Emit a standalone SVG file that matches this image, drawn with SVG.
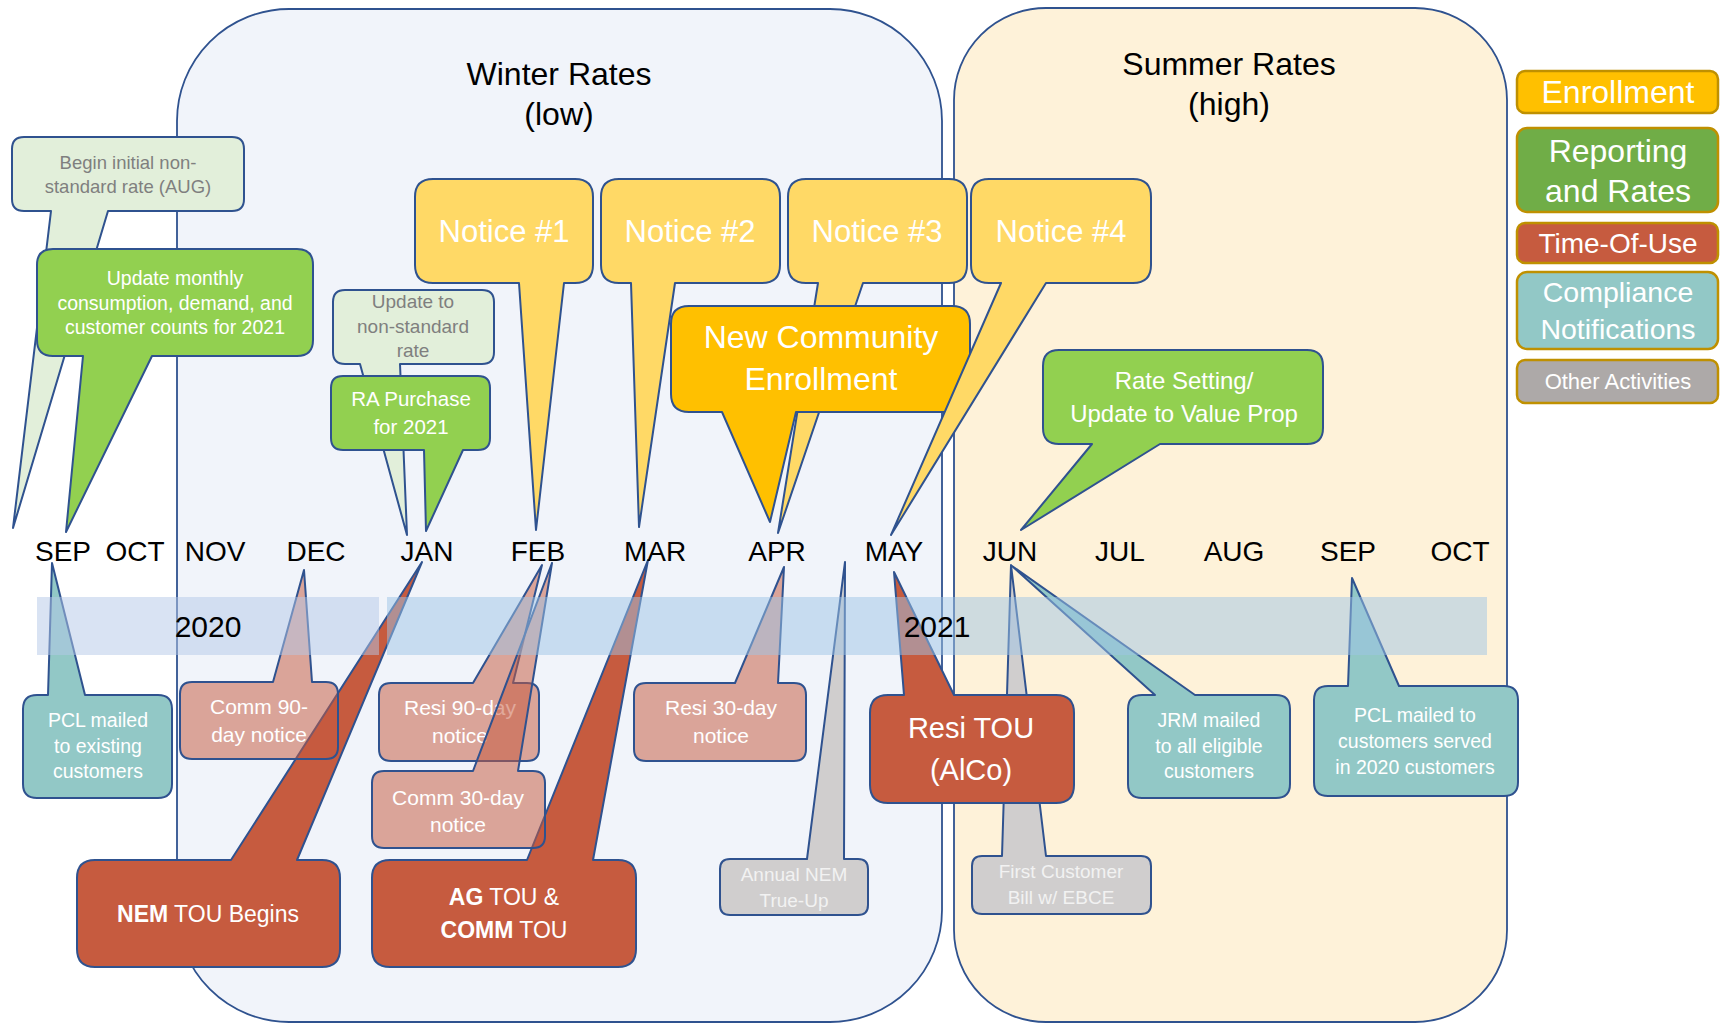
<svg xmlns="http://www.w3.org/2000/svg" width="1720" height="1024" viewBox="0 0 1720 1024">
<style>
text{font-family:"Liberation Sans",Arial,sans-serif;text-anchor:middle}
.cs{stroke:#2F528F;stroke-width:2;stroke-linejoin:round}
.lg{fill:#E2EFDA}.gr{fill:#92D050}.nt{fill:#FFD966}.en{fill:#FFC000}
.tou{fill:#C65B3F}.ltou{fill:#C65B3F;fill-opacity:0.52}.teal{fill:#92C8C6}.gray{fill:#D0CECE}
.tw{fill:#FFFFFF}.tg{fill:#7F7F7F}.tl{fill:#F2F2F2}.tk{fill:#000000}
.leg{stroke:#BF9000;stroke-width:2.5}
</style>
<rect width="1720" height="1024" fill="#FFFFFF"/>
<g id="winter-panel">
<rect x="177" y="9" width="765" height="1013" rx="112" ry="112" fill="#F1F4FA" stroke="#2F528F" stroke-width="1.8"/>
<text x="559" y="85" font-size="32" class="tk">Winter Rates</text>
<text x="559" y="125" font-size="32" class="tk">(low)</text>
</g>
<g id="summer-panel">
<rect x="954" y="8" width="553" height="1014" rx="92" ry="92" fill="#FEF2D9" stroke="#2F528F" stroke-width="1.8"/>
<text x="1229" y="75" font-size="32" class="tk">Summer Rates</text>
<text x="1229" y="115" font-size="32" class="tk">(high)</text>
</g>
<g id="begin-initial">
<path class="cs lg" d="M24,137 H232 Q244,137 244,149 V199 Q244,211 232,211 H108 L13,528 L51,211 H24 Q12,211 12,199 V149 Q12,137 24,137 Z"/>
<text x="128" y="169" font-size="18.5" class="tg">Begin initial non-</text>
<text x="128" y="193" font-size="18.5" class="tg">standard rate (AUG)</text>
</g>
<g id="update-monthly">
<path class="cs gr" d="M53,249 H297 Q313,249 313,265 V340 Q313,356 297,356 H152 L66,532 L83,356 H53 Q37,356 37,340 V265 Q37,249 53,249 Z"/>
<text x="175" y="285" font-size="19.5" class="tw">Update monthly</text>
<text x="175" y="310" font-size="19.5" class="tw">consumption, demand, and</text>
<text x="175" y="334" font-size="19.5" class="tw">customer counts for 2021</text>
</g>
<g id="update-nonstandard">
<path class="cs lg" d="M345,290 H482 Q494,290 494,302 V352 Q494,364 482,364 H400 L407,535 L360,364 H345 Q333,364 333,352 V302 Q333,290 345,290 Z"/>
<text x="413" y="308" font-size="19" class="tg">Update to</text>
<text x="413" y="333" font-size="19" class="tg">non-standard</text>
<text x="413" y="357" font-size="19" class="tg">rate</text>
</g>
<g id="ra-purchase">
<path class="cs gr" d="M343,376 H478 Q490,376 490,388 V438 Q490,450 478,450 H463 L426,531 L424,450 H343 Q331,450 331,438 V388 Q331,376 343,376 Z"/>
<text x="411" y="406" font-size="20.5" class="tw">RA Purchase</text>
<text x="411" y="434" font-size="20.5" class="tw">for 2021</text>
</g>
<g id="notice-1">
<path class="cs nt" d="M433,179 H575 Q593,179 593,197 V265 Q593,283 575,283 H564 L536,530 L519,283 H433 Q415,283 415,265 V197 Q415,179 433,179 Z"/>
<text x="504" y="242" font-size="31" class="tw">Notice #1</text>
</g>
<g id="notice-2">
<path class="cs nt" d="M619,179 H762 Q780,179 780,197 V265 Q780,283 762,283 H675 L639,527 L631,283 H619 Q601,283 601,265 V197 Q601,179 619,179 Z"/>
<text x="690" y="242" font-size="31" class="tw">Notice #2</text>
</g>
<g id="notice-3">
<path class="cs nt" d="M806,179 H949 Q967,179 967,197 V265 Q967,283 949,283 H863 L778,533 L818,283 H806 Q788,283 788,265 V197 Q788,179 806,179 Z"/>
<text x="877" y="242" font-size="31" class="tw">Notice #3</text>
</g>
<g id="new-community-enrollment">
<path class="cs en" d="M689,306 H952 Q970,306 970,324 V394 Q970,412 952,412 H796 L770,522 L722,412 H689 Q671,412 671,394 V324 Q671,306 689,306 Z"/>
<text x="821" y="348" font-size="32" class="tw">New Community</text>
<text x="821" y="390" font-size="32" class="tw">Enrollment</text>
</g>
<g id="notice-4">
<path class="cs nt" d="M989,179 H1133 Q1151,179 1151,197 V265 Q1151,283 1133,283 H1046 L891,535 L1001,283 H989 Q971,283 971,265 V197 Q971,179 989,179 Z"/>
<text x="1061" y="242" font-size="31" class="tw">Notice #4</text>
</g>
<g id="rate-setting">
<path class="cs gr" d="M1059,350 H1307 Q1323,350 1323,366 V428 Q1323,444 1307,444 H1160 L1021,530 L1092,444 H1059 Q1043,444 1043,428 V366 Q1043,350 1059,350 Z"/>
<text x="1184" y="389" font-size="24" class="tw">Rate Setting/</text>
<text x="1184" y="422" font-size="24" class="tw">Update to Value Prop</text>
</g>
<g id="nem-tou">
<path class="cs tou" d="M95,860 H231 L422,562 L297,860 H322 Q340,860 340,878 V949 Q340,967 322,967 H95 Q77,967 77,949 V878 Q77,860 95,860 Z"/>
<text x="208" y="922" font-size="23" class="tw"><tspan font-weight="bold">NEM</tspan> TOU Begins</text>
</g>
<g id="comm-90">
<path class="cs ltou" d="M192,682 H273 L304,570 L312,682 H326 Q338,682 338,694 V747 Q338,759 326,759 H192 Q180,759 180,747 V694 Q180,682 192,682 Z"/>
<text x="259" y="714" font-size="21" class="tw">Comm 90-</text>
<text x="259" y="742" font-size="21" class="tw">day notice</text>
</g>
<g id="ag-comm-tou">
<path class="cs tou" d="M390,860 H527 L648,560 L593,860 H618 Q636,860 636,878 V949 Q636,967 618,967 H390 Q372,967 372,949 V878 Q372,860 390,860 Z"/>
<text x="504" y="905" font-size="23" class="tw"><tspan font-weight="bold">AG</tspan> TOU &amp;</text>
<text x="504" y="938" font-size="23" class="tw"><tspan font-weight="bold">COMM</tspan> TOU</text>
</g>
<g id="resi-90">
<path class="cs ltou" d="M391,683 H473 L542,565 L513,683 H527 Q539,683 539,695 V749 Q539,761 527,761 H391 Q379,761 379,749 V695 Q379,683 391,683 Z"/>
<text x="460" y="715" font-size="21" class="tw">Resi 90-day</text>
<text x="460" y="743" font-size="21" class="tw">notice</text>
</g>
<g id="comm-30">
<path class="cs ltou" d="M384,771 H473 L552,563 L518,771 H533 Q545,771 545,783 V836 Q545,848 533,848 H384 Q372,848 372,836 V783 Q372,771 384,771 Z"/>
<text x="458" y="805" font-size="21" class="tw">Comm 30-day</text>
<text x="458" y="832" font-size="21" class="tw">notice</text>
</g>
<g id="resi-30">
<path class="cs ltou" d="M646,683 H735 L784,567 L778,683 H794 Q806,683 806,695 V749 Q806,761 794,761 H646 Q634,761 634,749 V695 Q634,683 646,683 Z"/>
<text x="721" y="715" font-size="21" class="tw">Resi 30-day</text>
<text x="721" y="743" font-size="21" class="tw">notice</text>
</g>
<g id="annual-nem">
<path class="cs gray" d="M730,859 H807 L845,562 L844,859 H858 Q868,859 868,869 V905 Q868,915 858,915 H730 Q720,915 720,905 V869 Q720,859 730,859 Z"/>
<text x="794" y="881" font-size="19" class="tl">Annual NEM</text>
<text x="794" y="907" font-size="19" class="tl">True-Up</text>
</g>
<g id="first-customer-bill">
<path class="cs gray" d="M982,856 H1002 L1011,565 L1046,856 H1141 Q1151,856 1151,866 V904 Q1151,914 1141,914 H982 Q972,914 972,904 V866 Q972,856 982,856 Z"/>
<text x="1061" y="878" font-size="19" class="tl">First Customer</text>
<text x="1061" y="904" font-size="19" class="tl">Bill w/ EBCE</text>
</g>
<g id="resi-tou">
<path class="cs tou" d="M888,695 H904 L894,572 L954,695 H1056 Q1074,695 1074,713 V785 Q1074,803 1056,803 H888 Q870,803 870,785 V713 Q870,695 888,695 Z"/>
<text x="971" y="738" font-size="29" class="tw">Resi TOU</text>
<text x="971" y="780" font-size="29" class="tw">(AlCo)</text>
</g>
<g id="jrm-mailed">
<path class="cs teal" d="M1142,695 H1155 L1012,566 L1195,695 H1276 Q1290,695 1290,709 V784 Q1290,798 1276,798 H1142 Q1128,798 1128,784 V709 Q1128,695 1142,695 Z"/>
<text x="1209" y="727" font-size="19.5" class="tw">JRM mailed</text>
<text x="1209" y="753" font-size="19.5" class="tw">to all eligible</text>
<text x="1209" y="778" font-size="19.5" class="tw">customers</text>
</g>
<g id="pcl-2020">
<path class="cs teal" d="M1328,686 H1348 L1352,578 L1399,686 H1504 Q1518,686 1518,700 V782 Q1518,796 1504,796 H1328 Q1314,796 1314,782 V700 Q1314,686 1328,686 Z"/>
<text x="1415" y="722" font-size="19.5" class="tw">PCL mailed to</text>
<text x="1415" y="748" font-size="19.5" class="tw">customers served</text>
<text x="1415" y="774" font-size="19.5" class="tw">in 2020 customers</text>
</g>
<g id="pcl-existing">
<path class="cs teal" d="M37,695 H48 L52,563 L85,695 H158 Q172,695 172,709 V784 Q172,798 158,798 H37 Q23,798 23,784 V709 Q23,695 37,695 Z"/>
<text x="98" y="727" font-size="19.5" class="tw">PCL mailed</text>
<text x="98" y="753" font-size="19.5" class="tw">to existing</text>
<text x="98" y="778" font-size="19.5" class="tw">customers</text>
</g>
<g id="year-band">
<rect x="37" y="597" width="342" height="58" fill="#B4C7E7" fill-opacity="0.5"/>
<rect x="387" y="597" width="1100" height="58" fill="#9DC3E6" fill-opacity="0.5"/>
<text x="208" y="637" font-size="30" class="tk">2020</text>
<text x="937" y="637" font-size="30" class="tk">2021</text>
</g>
<g id="months" font-size="28" class="tk">
<text x="63" y="561">SEP</text>
<text x="135" y="561">OCT</text>
<text x="215" y="561">NOV</text>
<text x="316" y="561">DEC</text>
<text x="427" y="561">JAN</text>
<text x="538" y="561">FEB</text>
<text x="655" y="561">MAR</text>
<text x="777" y="561">APR</text>
<text x="894" y="561">MAY</text>
<text x="1010" y="561">JUN</text>
<text x="1120" y="561">JUL</text>
<text x="1234" y="561">AUG</text>
<text x="1348" y="561">SEP</text>
<text x="1460" y="561">OCT</text>
</g>
<g id="legend">
<g id="legend-enrollment"><rect class="leg" x="1517" y="71" width="201" height="42" rx="8" fill="#FFC000"/><text x="1618" y="103" font-size="32" class="tw">Enrollment</text></g>
<g id="legend-reporting"><rect class="leg" x="1517" y="128" width="201" height="84" rx="10" fill="#70AD47"/><text x="1618" y="162" font-size="32" class="tw">Reporting</text><text x="1618" y="202" font-size="32" class="tw">and Rates</text></g>
<g id="legend-tou"><rect class="leg" x="1517" y="223" width="201" height="40" rx="8" fill="#C65B3F"/><text x="1618" y="253" font-size="28" class="tw">Time-Of-Use</text></g>
<g id="legend-compliance"><rect class="leg" x="1517" y="272" width="201" height="77" rx="10" fill="#92C8C6"/><text x="1618" y="302" font-size="28.5" class="tw">Compliance</text><text x="1618" y="339" font-size="28.5" class="tw">Notifications</text></g>
<g id="legend-other"><rect class="leg" x="1517" y="360" width="201" height="43" rx="8" fill="#ADA9A8"/><text x="1618" y="389" font-size="22" class="tw">Other Activities</text></g>
</g>
</svg>
